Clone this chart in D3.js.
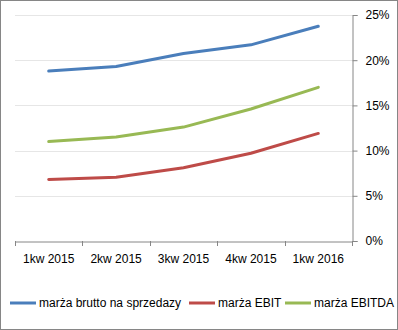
<!DOCTYPE html>
<html><head><meta charset="utf-8">
<script src="https://cdn.jsdelivr.net/npm/d3@7/dist/d3.min.js"></script>
<style>body{margin:0;background:#fff}svg{display:block}text{font-family:"Liberation Sans",Arial,sans-serif;fill:#000}</style>
</head><body><svg id="c" width="398" height="330"></svg>
<script>
const categories = ["1kw 2015","2kw 2015","3kw 2015","4kw 2015","1kw 2016"];
const brutto = [18.8, 19.3, 20.75, 21.7, 23.75];
const ebit = [6.8, 7.05, 8.1, 9.7, 11.9];
const ebitda = [11.0, 11.5, 12.6, 14.6, 17.0];
const yTicks = [0,5,10,15,20,25];
const seriesNames = ["marża brutto na sprzedazy","marża EBIT","marża EBITDA"];
const colors = ["#4A7EBB","#BE4B48","#98B954"];
const series = [brutto, ebit, ebitda];

const svg = d3.select("#c");
svg.append("rect").attr("x",0.5).attr("y",0.5).attr("width",397).attr("height",329)
  .attr("fill","#fff").attr("stroke","#868686").attr("stroke-width",1);

const L=15, R=352, T=15, B=241;
const x = d3.scaleBand().domain(categories).range([L,R]);
const y = d3.scaleLinear().domain([0,25]).range([B,T]);

svg.append("g").selectAll("line").data(yTicks.filter(d=>d>0)).join("line")
  .attr("x1",L).attr("x2",R).attr("y1",d=>Math.round(y(d))+0.5).attr("y2",d=>Math.round(y(d))+0.5)
  .attr("stroke","#E6E6E6").attr("stroke-width",1);

const ya = svg.append("g").attr("transform",`translate(${R+0.5},0)`)
  .call(d3.axisRight(y).tickValues(yTicks).tickFormat(d=>d+"%").tickSize(5).tickPadding(8));
ya.select(".domain").attr("stroke","#868686");
ya.selectAll(".tick line").attr("stroke","#868686");
ya.selectAll("text").attr("font-size","12px").attr("font-family","Liberation Sans, Arial, sans-serif").attr("fill","#000");

const xa = svg.append("g").attr("transform",`translate(0,${B+0.5})`)
  .call(d3.axisBottom(x).tickSize(0).tickPadding(13));
xa.select(".domain").attr("stroke","#868686");
xa.selectAll("text").attr("font-size","12px").attr("font-family","Liberation Sans, Arial, sans-serif").attr("fill","#000");
const bounds = categories.map(c=>x(c)).concat([R]);
svg.append("g").selectAll("line").data(bounds).join("line")
  .attr("x1",d=>Math.round(d)+0.5).attr("x2",d=>Math.round(d)+0.5).attr("y1",B).attr("y2",B+5)
  .attr("stroke","#868686");

const line = d3.line().x((d,i)=>x(categories[i])+x.bandwidth()/2).y(d=>y(d)).curve(d3.curveLinear);
series.forEach((s,i)=>{
  svg.append("path").datum(s).attr("d",line).attr("fill","none")
    .attr("stroke",colors[i]).attr("stroke-width",3).attr("stroke-linecap","round").attr("stroke-linejoin","round");
});

const legX = [10, 189, 285];
const lg = svg.append("g");
seriesNames.forEach((n,i)=>{
  lg.append("line").attr("x1",legX[i]).attr("x2",legX[i]+26).attr("y1",303).attr("y2",303)
    .attr("stroke",colors[i]).attr("stroke-width",3);
  lg.append("text").attr("x",legX[i]+29).attr("y",307).attr("font-size","12px").text(n);
});
</script></body></html>
